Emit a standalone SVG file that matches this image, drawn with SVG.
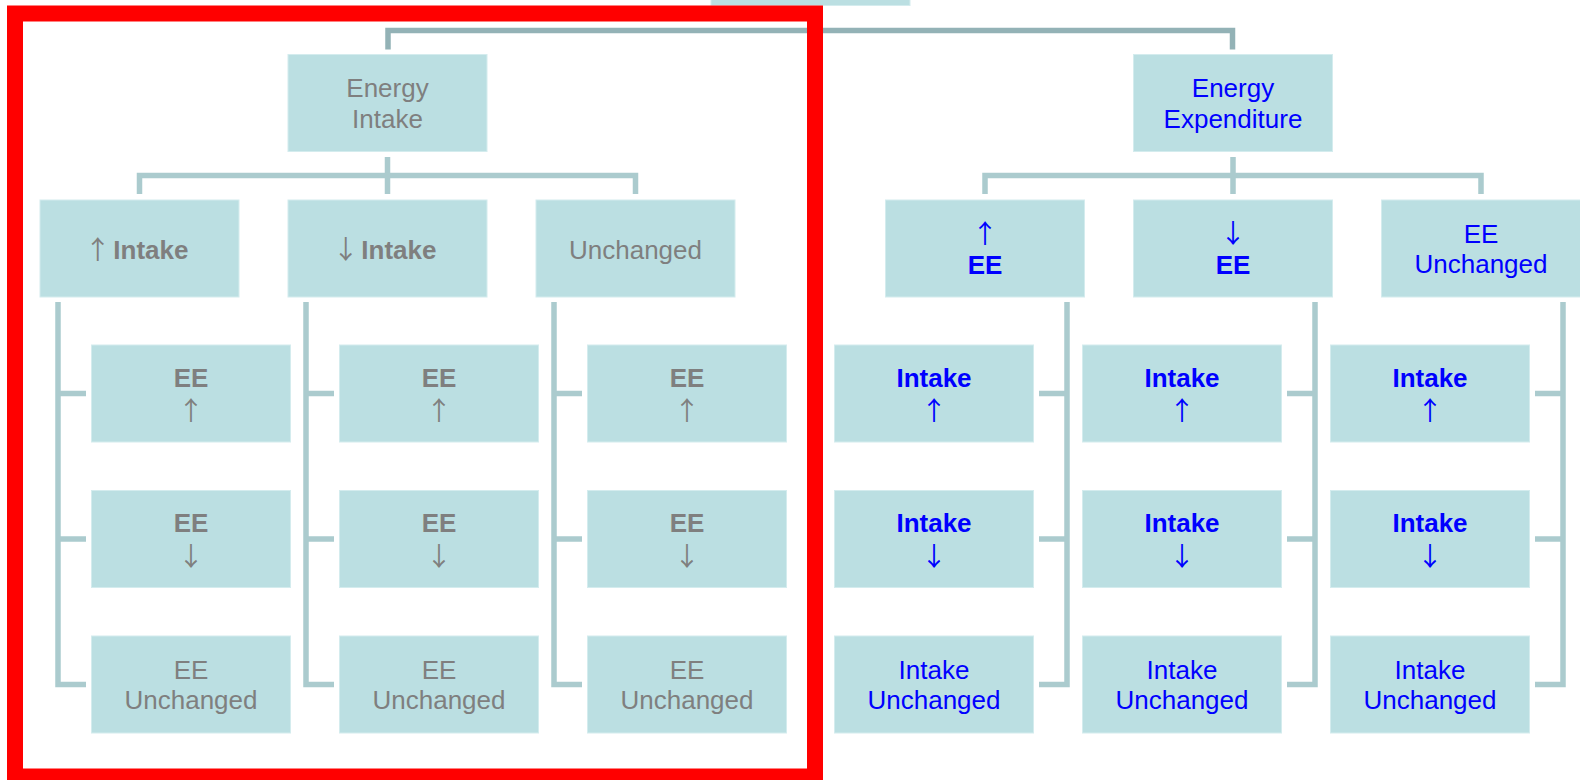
<svg xmlns="http://www.w3.org/2000/svg" width="1580" height="780" viewBox="0 0 1580 780">
<style>
.box{fill:#bbdfe2;stroke:#d4ecee;stroke-width:1}
.c{fill:none;stroke:#abcbce;stroke-width:5.5}
.ct{fill:none;stroke:#93b2b6;stroke-width:5.5}
text{font-family:"Liberation Sans",Arial,sans-serif;font-size:26px;text-anchor:middle}
.g{fill:#7f7f7f}
.b{fill:#0000ff}
.bold{font-weight:bold}
.ar{font-family:"Noto Sans CJK JP","Noto Sans CJK SC",sans-serif;font-weight:normal}
.st{text-anchor:start}
</style>
<rect width="1580" height="780" fill="#ffffff"/>
<g id="connectors">
<path class="ct" d="M388 49.5V30.5H1232.5V49.5"/>
<path class="c" d="M387.5 157V194M139.5 194V175.5H635.5V194"/>
<path class="c" d="M1233 157V194M985 194V175.5H1481V194"/>
<path class="c" d="M58 302V684.5H86M58 393.5H86M58 539H86"/>
<path class="c" d="M306 302V684.5H334M306 393.5H334M306 539H334"/>
<path class="c" d="M554 302V684.5H582M554 393.5H582M554 539H582"/>
<path class="c" d="M1067 302V684.5H1039M1067 393.5H1039M1067 539H1039"/>
<path class="c" d="M1315 302V684.5H1287M1315 393.5H1287M1315 539H1287"/>
<path class="c" d="M1563 302V684.5H1535M1563 393.5H1535M1563 539H1535"/>
</g>
<g id="root"><rect class="box" x="711" y="-91.5" width="199" height="97"/></g>
<g id="energy-intake"><rect class="box" x="288" y="54.5" width="199" height="97"/>
<text class="g" x="387.5" y="96.5">Energy</text><text class="g" x="387.5" y="127.5">Intake</text></g>
<g id="energy-expenditure"><rect class="box" x="1133.5" y="54.5" width="199" height="97"/>
<text class="b" x="1233" y="96.5">Energy</text><text class="b" x="1233" y="127.5">Expenditure</text></g>
<g id="intake-up"><rect class="box" x="40" y="200" width="199" height="97"/>
<text class="g ar" x="97.8" y="259.3">↑</text><text class="g bold st" x="113.3" y="259.3">Intake</text></g>
<g id="intake-down"><rect class="box" x="288" y="200" width="199" height="97"/>
<text class="g ar" x="345.8" y="259.3">↓</text><text class="g bold st" x="361.3" y="259.3">Intake</text></g>
<g id="intake-unchanged"><rect class="box" x="536" y="200" width="199" height="97"/>
<text class="g" x="635.5" y="259.3">Unchanged</text></g>
<g id="ee-up"><rect class="box" x="885.5" y="200" width="199" height="97"/>
<text class="b ar" x="985" y="243">↑</text><text class="b bold" x="985" y="274">EE</text></g>
<g id="ee-down"><rect class="box" x="1133.5" y="200" width="199" height="97"/>
<text class="b ar" x="1233" y="243">↓</text><text class="b bold" x="1233" y="274">EE</text></g>
<g id="ee-unchanged"><rect class="box" x="1381.5" y="200" width="199" height="97"/>
<text class="b" x="1481" y="242.7">EE</text><text class="b" x="1481" y="273.3">Unchanged</text></g>

<g id="iu-ee-up"><rect class="box" x="91.5" y="345" width="199" height="97"/>
<text class="g bold" x="191" y="386.7">EE</text><text class="g ar" x="191" y="420">↑</text></g>
<g id="iu-ee-down"><rect class="box" x="91.5" y="490.5" width="199" height="97"/>
<text class="g bold" x="191" y="532.2">EE</text><text class="g ar" x="191" y="565.5">↓</text></g>
<g id="iu-ee-unch"><rect class="box" x="91.5" y="636" width="199" height="97"/>
<text class="g" x="191" y="678.7">EE</text><text class="g" x="191" y="709">Unchanged</text></g>

<g id="id-ee-up"><rect class="box" x="339.5" y="345" width="199" height="97"/>
<text class="g bold" x="439" y="386.7">EE</text><text class="g ar" x="439" y="420">↑</text></g>
<g id="id-ee-down"><rect class="box" x="339.5" y="490.5" width="199" height="97"/>
<text class="g bold" x="439" y="532.2">EE</text><text class="g ar" x="439" y="565.5">↓</text></g>
<g id="id-ee-unch"><rect class="box" x="339.5" y="636" width="199" height="97"/>
<text class="g" x="439" y="678.7">EE</text><text class="g" x="439" y="709">Unchanged</text></g>

<g id="in-ee-up"><rect class="box" x="587.5" y="345" width="199" height="97"/>
<text class="g bold" x="687" y="386.7">EE</text><text class="g ar" x="687" y="420">↑</text></g>
<g id="in-ee-down"><rect class="box" x="587.5" y="490.5" width="199" height="97"/>
<text class="g bold" x="687" y="532.2">EE</text><text class="g ar" x="687" y="565.5">↓</text></g>
<g id="in-ee-unch"><rect class="box" x="587.5" y="636" width="199" height="97"/>
<text class="g" x="687" y="678.7">EE</text><text class="g" x="687" y="709">Unchanged</text></g>

<g id="eu-in-up"><rect class="box" x="834.5" y="345" width="199" height="97"/>
<text class="b bold" x="934" y="386.7">Intake</text><text class="b ar" x="934" y="420">↑</text></g>
<g id="eu-in-down"><rect class="box" x="834.5" y="490.5" width="199" height="97"/>
<text class="b bold" x="934" y="532.2">Intake</text><text class="b ar" x="934" y="565.5">↓</text></g>
<g id="eu-in-unch"><rect class="box" x="834.5" y="636" width="199" height="97"/>
<text class="b" x="934" y="678.7">Intake</text><text class="b" x="934" y="709">Unchanged</text></g>

<g id="ed-in-up"><rect class="box" x="1082.5" y="345" width="199" height="97"/>
<text class="b bold" x="1182" y="386.7">Intake</text><text class="b ar" x="1182" y="420">↑</text></g>
<g id="ed-in-down"><rect class="box" x="1082.5" y="490.5" width="199" height="97"/>
<text class="b bold" x="1182" y="532.2">Intake</text><text class="b ar" x="1182" y="565.5">↓</text></g>
<g id="ed-in-unch"><rect class="box" x="1082.5" y="636" width="199" height="97"/>
<text class="b" x="1182" y="678.7">Intake</text><text class="b" x="1182" y="709">Unchanged</text></g>

<g id="en-in-up"><rect class="box" x="1330.5" y="345" width="199" height="97"/>
<text class="b bold" x="1430" y="386.7">Intake</text><text class="b ar" x="1430" y="420">↑</text></g>
<g id="en-in-down"><rect class="box" x="1330.5" y="490.5" width="199" height="97"/>
<text class="b bold" x="1430" y="532.2">Intake</text><text class="b ar" x="1430" y="565.5">↓</text></g>
<g id="en-in-unch"><rect class="box" x="1330.5" y="636" width="199" height="97"/>
<text class="b" x="1430" y="678.7">Intake</text><text class="b" x="1430" y="709">Unchanged</text></g>

<g id="highlight"><rect x="15" y="13.5" width="800" height="763" fill="none" stroke="#ff0000" stroke-width="16"/></g>
</svg>
